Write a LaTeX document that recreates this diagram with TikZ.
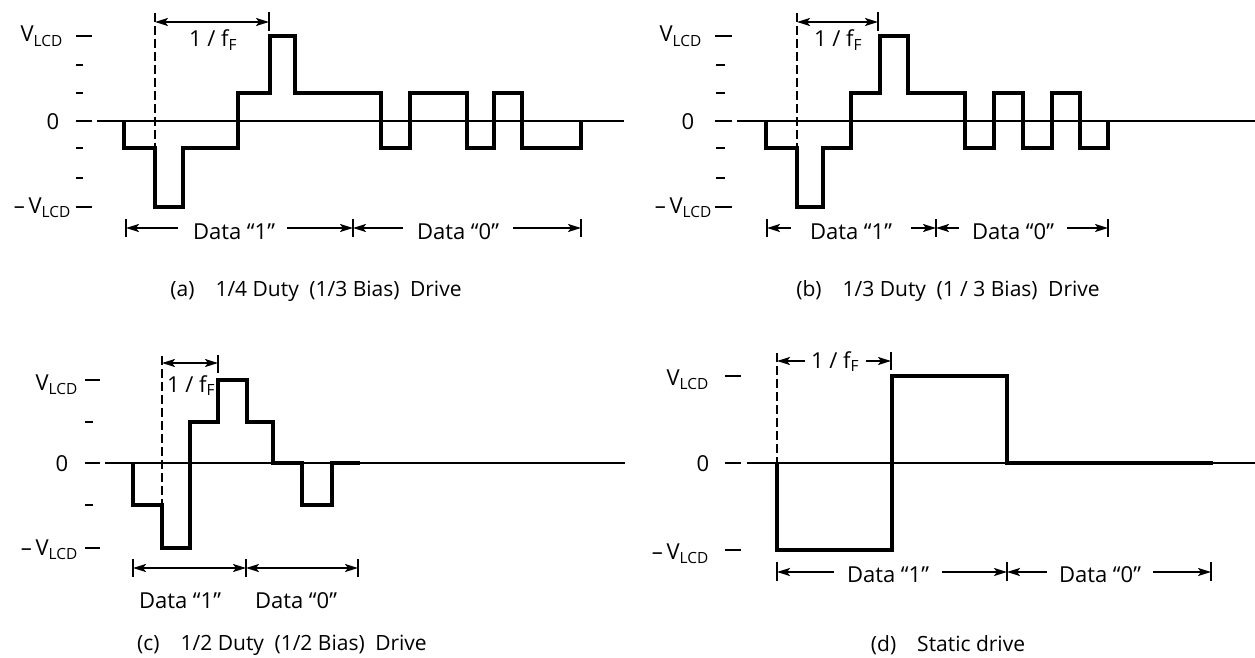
\documentclass[tikz,border=0pt]{standalone}
\usepackage{fontspec}
\setmainfont{Open Sans}
\usetikzlibrary{arrows.meta}
\tikzset{
  axisline/.style={line width=2pt},
  wave/.style={line width=4.6pt},
  tickline/.style={line width=2.2pt},
  guide/.style={line width=1.8pt, dash pattern=on 9pt off 4pt},
  onearrow/.style={line width=2pt, -{Stealth[length=13pt,width=8pt,inset=3pt]}},
  twoarrow/.style={line width=2pt, {Stealth[length=13pt,width=8pt,inset=3pt]}-{Stealth[length=13pt,width=8pt,inset=3pt]}},
  lbl/.style={inner sep=0pt, font=\fontsize{22}{26}\selectfont},
  captext/.style={inner sep=0pt, font=\fontsize{21}{25}\selectfont},
}
\begin{document}
\begin{tikzpicture}[x=1pt,y=-1pt]
\useasboundingbox (0,0) rectangle (1255,658);

% ================= (a) =================
\foreach \yy in {36,121,207} \draw[tickline] (76,\yy) -- (92,\yy);
\foreach \yy in {65,93,148,178} \draw[tickline] (76,\yy) -- (83,\yy);
\node[lbl, anchor=base east] (aV) at (63,42) {V\textsubscript{LCD}};
\node[lbl] (aZ) at (53,122) {0};
\node[lbl, anchor=base east] (aVn) at (71,213) {–\,V\textsubscript{LCD}};
\draw[axisline] (97,121) -- (624,121);
\draw[wave] (124,121) -- (124,148) -- (155,148) -- (155,207) -- (183,207) -- (183,148)
  -- (238,148) -- (238,93) -- (270,93) -- (270,36) -- (295,36) -- (295,93)
  -- (381,93) -- (381,148) -- (410,148) -- (410,93) -- (467,93) -- (467,148)
  -- (494,148) -- (494,93) -- (522,93) -- (522,148) -- (581,148) -- (581,121);
\draw[guide] (155,13) -- (155,148);
\coordinate (aF1) at (155,22);
\coordinate (aF2) at (269,22);
\draw[tickline] (269,12) -- (269,31);
\draw[twoarrow] (aF1) -- (aF2);
\node[lbl, anchor=base] (aFl) at (213,47) {1 / f\textsubscript{F}};
% data arrows
\foreach \xx in {126,353,581} \draw[tickline] (\xx,219) -- (\xx,237);
\node[lbl, anchor=base] (aD1) at (234,239) {Data “1”};
\node[lbl, anchor=base] (aD0) at (458,239) {Data “0”};
\coordinate (aB1) at (126,228); \coordinate (aB2) at (353,228); \coordinate (aB3) at (581,228);
\coordinate (aS1) at (178,228); \coordinate (aS2) at (287,228);
\coordinate (aS3) at (403,228); \coordinate (aS4) at (513,228);
\draw[onearrow] (aS1) -- (aB1);
\draw[onearrow] (aS2) -- (aB2);
\draw[onearrow] (aS3) -- (aB2);
\draw[onearrow] (aS4) -- (aB3);
\node[captext, anchor=base] (aCap) at (316,296) {(a)\quad 1/4 Duty\enspace (1/3 Bias)\enspace Drive};

% ================= (b) =================
\foreach \yy in {36,121,207} \draw[tickline] (715,\yy) -- (732,\yy);
\foreach \yy in {65,93,148,178} \draw[tickline] (716,\yy) -- (725,\yy);
\node[lbl, anchor=base east] (bV) at (702,42) {V\textsubscript{LCD}};
\node[lbl] (bZ) at (688,122) {0};
\node[lbl, anchor=base east] (bVn) at (712,213) {–\,V\textsubscript{LCD}};
\draw[axisline] (737,121) -- (1255,121);
\draw[wave] (766,121) -- (766,148) -- (797,148) -- (797,207) -- (823,207) -- (823,148)
  -- (851,148) -- (851,93) -- (880,93) -- (880,36) -- (908,36) -- (908,93)
  -- (965,93) -- (965,148) -- (994,148) -- (994,93) -- (1023,93) -- (1023,148)
  -- (1052,148) -- (1052,93) -- (1080,93) -- (1080,148) -- (1108,148) -- (1108,121);
\draw[guide] (797,13) -- (797,148);
\coordinate (bF1) at (797,22);
\coordinate (bF2) at (878,22);
\draw[tickline] (878,12) -- (878,31);
\draw[twoarrow] (bF1) -- (bF2);
\node[lbl, anchor=base] (bFl) at (838,47) {1 / f\textsubscript{F}};
\foreach \xx in {767,936,1108} \draw[tickline] (\xx,219) -- (\xx,237);
\node[lbl, anchor=base] (bD1) at (851,239) {Data “1”};
\node[lbl, anchor=base] (bD0) at (1013,239) {Data “0”};
\coordinate (bB1) at (767,228); \coordinate (bB2) at (936,228); \coordinate (bB3) at (1108,228);
\coordinate (bS1) at (791,228); \coordinate (bS2) at (911,228);
\coordinate (bS3) at (959,228); \coordinate (bS4) at (1067,228);
\draw[onearrow] (bS1) -- (bB1);
\draw[onearrow] (bS2) -- (bB2);
\draw[onearrow] (bS3) -- (bB2);
\draw[onearrow] (bS4) -- (bB3);
\node[captext, anchor=base] (bCap) at (948,296) {(b)\quad 1/3 Duty\enspace (1 / 3 Bias)\enspace Drive};

% ================= (c) =================
\foreach \yy in {380,463,548} \draw[tickline] (85,\yy) -- (100,\yy);
\foreach \yy in {422,505} \draw[tickline] (85,\yy) -- (93,\yy);
\node[lbl, anchor=base east] (cV) at (78,390) {V\textsubscript{LCD}};
\node[lbl] (cZ) at (62,464) {0};
\node[lbl, anchor=base east] (cVn) at (78,555) {–\,V\textsubscript{LCD}};
\draw[axisline] (105,463) -- (625,463);
\draw[wave] (133,463) -- (133,505) -- (162,505) -- (162,548) -- (190,548) -- (190,422)
  -- (218,422) -- (218,380) -- (247,380) -- (247,422) -- (273,422) -- (273,463)
  -- (302,463) -- (302,505) -- (332,505) -- (332,463) -- (360,463);
\draw[guide] (162,356) -- (162,505);
\coordinate (cF1) at (162,363);
\coordinate (cF2) at (218,363);
\draw[tickline] (218,355) -- (218,373);
\draw[twoarrow] (cF1) -- (cF2);
\node[lbl, anchor=base] (cFl) at (191,392) {1 / f\textsubscript{F}};
\foreach \xx in {133,246,358} \draw[tickline] (\xx,559) -- (\xx,577);
\coordinate (cB1) at (133,568); \coordinate (cB2) at (246,568); \coordinate (cB3) at (358,568);
\draw[twoarrow] (cB1) -- (cB2);
\draw[twoarrow] (cB2) -- (cB3);
\node[lbl, anchor=base] (cD1) at (180,608) {Data “1”};
\node[lbl, anchor=base] (cD0) at (296,608) {Data “0”};
\node[captext, anchor=base] (cCap) at (282,650) {(c)\quad 1/2 Duty\enspace (1/2 Bias)\enspace Drive};

% ================= (d) =================
\foreach \yy in {376,463,550} \draw[tickline] (725,\yy) -- (741,\yy);
\node[lbl, anchor=base east] (dV) at (709,385) {V\textsubscript{LCD}};
\node[lbl] (dZ) at (703,464) {0};
\node[lbl, anchor=base east] (dVn) at (709,559) {–\,V\textsubscript{LCD}};
\draw[axisline] (747,463) -- (1255,463);
\draw[wave] (777,463) -- (777,550) -- (892,550) -- (892,376) -- (1007,376) -- (1007,463) -- (1213,463);
\draw[guide] (777,353) -- (777,463);
\coordinate (dF1) at (777,361);
\coordinate (dF2) at (891,361);
\coordinate (dG1) at (805,361);
\coordinate (dG2) at (866,361);
\draw[tickline] (891,352) -- (891,370);
\draw[onearrow] (dG1) -- (dF1);
\draw[onearrow] (dG2) -- (dF2);
\node[lbl, anchor=base] (dFl) at (835,368) {1 / f\textsubscript{F}};
\foreach \xx in {777,1007,1211} \draw[tickline] (\xx,562) -- (\xx,581);
\node[lbl, anchor=base] (dD1) at (888,582) {Data “1”};
\node[lbl, anchor=base] (dD0) at (1100,582) {Data “0”};
\coordinate (dB1) at (777,572); \coordinate (dB2) at (1007,572); \coordinate (dB3) at (1211,572);
\coordinate (dS1) at (834,572); \coordinate (dS2) at (942,572);
\coordinate (dS3) at (1047,572); \coordinate (dS4) at (1153,572);
\draw[onearrow] (dS1) -- (dB1);
\draw[onearrow] (dS2) -- (dB2);
\draw[onearrow] (dS3) -- (dB2);
\draw[onearrow] (dS4) -- (dB3);
\node[captext, anchor=base] (dCap) at (948,651) {(d)\quad Static drive};
\end{tikzpicture}
\end{document}
